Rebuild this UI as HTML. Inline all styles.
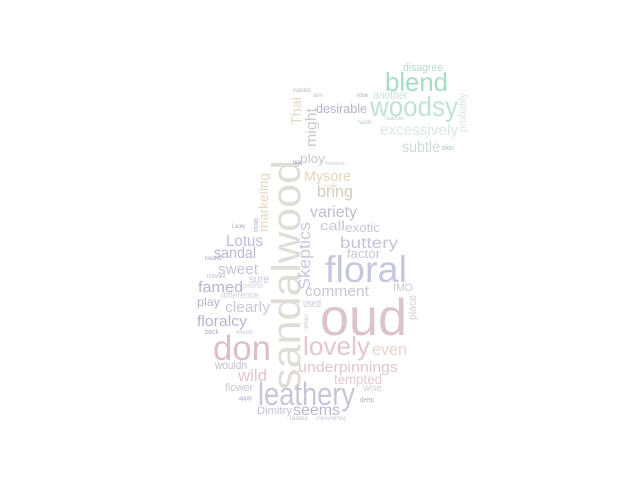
<!DOCTYPE html>
<html><head><meta charset="utf-8"><style>
html,body{margin:0;padding:0;background:#fff;}
svg{display:block;}
text{font-family:"Liberation Sans",sans-serif;}
</style></head><body>
<svg id="cloud" width="640" height="480" xmlns="http://www.w3.org/2000/svg"></svg>
<script>
// word, x, baseline, font size, text length, colour, vertical (1 = rotated -90)
const words = ["sandalwood","oud","floral","don","lovely","leathery","woodsy","blend","Skeptics","Mysore","bring","variety","call","exotic","buttery","factor","Lotus","sandal","sweet","sure","famed","comment","IMO","marketing","Thai","might","probably","place","desirable","another","disagree","excessively","subtle","ploy","tea","play","clearly","floralcy","used","even","wouldn","wild","underpinnings","tempted","flower","wise","Dimitry","seems","difference","back","apply","deep","evolution","arm","rose","skin","hands","nuances","presence","nutshell","towards","Lucey","effects","tastes","shows","fantome","crook","underwhelming","refined"];
const xs = [300,320,325,213,303,258,370,385,310,304,317,310,320,345,340,347,226,214,218,249,198,305,393,268,301,316,466,416,316,373,403,380,402,300,293,197,225,197,303,372,215,238,298,334,225,363,257,293,221,205,239,360,293,313,357,442,358,385,243,207,205,232,236,290,258,325,322,316,308];
const ys = [390,335,282,360,355,405,116,91,290,181,197,217,230,232,248,258,246,258,274,283,292,296,291,232,125,147,132,320,113,99,71,135,152,163,164,306,312,326,307,355,369,381,372,384,391,391,414,415,298,334,400,402,92,97,97,150,124,120,288,278,260,228,334,420,232,165,188,420,330];
const sizes = [40,52,37,35,26,32,28,26,17,15,17,16,13,13,16,13,16,16,15,12,15,15,11,13,14,15,11,11,13,12,11,16,16,13,6,12,15,15,11,17,12,17,15,14,11,10,11,16,9,7,6,7,6,6,6,7,6,6,7,6,6,6,6,6,7,5,6,6,6];
const lens = [230,87,82,58,67,97,88,63,68,47,36,47,25,35,58,33,37,42,40,20,45,64,20,59,28,39,39,25,51,35,40,78,38,25,8,23,45,50,18,35,32,29,100,48,28,19,35,47,38,14,13,14,18,10,11,12,14,19,20,18,17,13,17,18,14,20,15,30,15];
const colors = ["#e0dcd6","#dcc4cc","#c6c6de","#dcc0c8","#e6c6ce","#c6c6d6","#c0e4d4","#a6dcc2","#c8c8dc","#e6d6b6","#d6ccbc","#bcbcd2","#c8c8da","#c8c8dc","#c4c4da","#c8c8d8","#bcbcd6","#b8b8d2","#c4c4dc","#c8c8de","#b4b4d0","#c8c8d8","#c8c8d8","#e6d8c0","#e6dac0","#c8c8d0","#dae6de","#d0d0d8","#b4b4cc","#c8e4d8","#b8dcc8","#dae8e2","#c8ddd8","#c4c4d0","#9898b8","#b4b4cc","#c8c8dc","#b4b4cc","#c8c8dc","#eed2cc","#c0c0d0","#e6c4cc","#e0c6ce","#e6cad0","#c8c8d4","#d4d0d4","#c4c4d8","#b8b8d0","#d0d0e0","#b0b0c8","#a8a8c8","#b0b0c8","#b8b8c8","#c0c0c8","#a8a8b8","#a8c8c0","#b8d0c8","#b8d0c8","#d0d0e0","#b8b8c8","#a8a8c0","#a0a0c0","#c8c8d8","#c0c0d0","#b0b0c8","#d0d0d8","#e8dcc8","#d0c8d8","#c8c8d8"];
const vert = [1,0,0,0,0,0,0,0,1,0,0,0,0,0,0,0,0,0,0,0,0,0,0,1,1,1,1,1,0,0,0,0,0,0,0,0,0,0,0,0,0,0,0,0,0,0,0,0,0,0,0,0,0,0,0,0,0,0,0,0,0,0,0,0,1,0,0,0,1];

const svg = document.getElementById('cloud');
const NS = 'http://www.w3.org/2000/svg';
for (let i = 0; i < words.length; i++) {
  const t = document.createElementNS(NS, 'text');
  
  
  t.setAttribute('x', xs[i]);
  t.setAttribute('y', ys[i]);
  t.setAttribute('font-size', sizes[i]);
  t.setAttribute('fill', colors[i]);
  t.setAttribute('textLength', lens[i]);
  t.setAttribute('lengthAdjust', 'spacingAndGlyphs');
  if (vert[i]) t.setAttribute('transform', 'rotate(-90 ' + xs[i] + ' ' + ys[i] + ')');
  t.textContent = words[i];
  svg.appendChild(t);
}
</script>
</body></html>
